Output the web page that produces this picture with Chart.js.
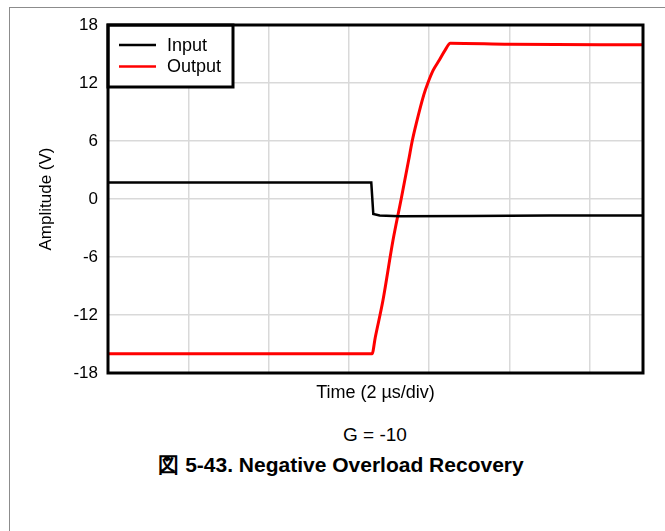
<!DOCTYPE html>
<html>
<head>
<meta charset="utf-8">
<script src="https://cdn.jsdelivr.net/npm/chart.js@4/dist/chart.umd.min.js"></script>
<style>
  body { margin: 0; background: #fff; font-family: "Liberation Sans", Arial, sans-serif; }
  #frame { position: absolute; left: 9px; top: 7px; width: 700px; height: 560px; border: 1px solid #8c8c8c; }
  #wrap { position: absolute; left: 0; top: 0; width: 665px; height: 406px; }
  .note { position: absolute; color: #000; white-space: nowrap; transform: translateX(-50%); }
</style>
</head>
<body>
<div id="frame"></div>
<div id="wrap"><canvas id="canvas" width="665" height="406"></canvas></div>
<div class="note" style="left:375px; top:424px; font-size:19px;">G = -10</div>
<div class="note" style="left:341px; top:451px; font-size:21px; font-weight:bold;">図 5-43. Negative Overload Recovery</div>
<script>
const canvas = document.getElementById("canvas");

// time in µs, amplitude in V
const inputTime = [0, 6.56, 6.61, 6.77, 7.27, 9.0, 11.0, 13.33];
const inputVolts = [1.7, 1.7, -1.55, -1.7, -1.78, -1.75, -1.7, -1.7];

const outputTime = [0, 6.58, 6.66, 6.85, 7.10, 7.30, 7.49, 7.58, 7.68, 7.87, 7.97, 8.10, 8.26, 8.40, 8.53, 10.0, 13.33];
const outputVolts = [-16, -16, -14.3, -10.5, -4.3, -0.1, 4.0, 6.0, 7.8, 10.8, 12.0, 13.3, 14.4, 15.4, 16.1, 16.0, 15.95];

const yTicks = [-18, -12, -6, 0, 6, 12, 18];

const fontFamily = "'Liberation Sans', Arial, sans-serif";

function toPoints(xs, ys) {
  return xs.map((x, i) => ({ x: x, y: ys[i] }));
}

const boxPlugin = {
  id: "boxPlugin",
  afterDatasetsDraw(chart) {
    const ctx = chart.ctx;
    const a = chart.chartArea;
    ctx.save();
    // legend box
    const lx = a.left, ly = a.top, lw = 125, lh = 62;
    ctx.fillStyle = "#fff";
    ctx.fillRect(lx, ly, lw, lh);
    ctx.strokeStyle = "#000";
    ctx.lineWidth = 3;
    ctx.strokeRect(lx, ly, lw, lh);
    ctx.font = "18px " + fontFamily;
    ctx.textBaseline = "middle";
    chart.data.datasets.forEach((ds, i) => {
      const y = ly + 20 + i * 21.5;
      ctx.strokeStyle = ds.borderColor;
      ctx.lineWidth = 2.5;
      ctx.beginPath();
      ctx.moveTo(lx + 11, y);
      ctx.lineTo(lx + 48, y);
      ctx.stroke();
      ctx.fillStyle = "#000";
      ctx.fillText(ds.label, lx + 59, y + 1);
    });
    // plot border
    ctx.strokeStyle = "#000";
    ctx.lineWidth = 3;
    ctx.strokeRect(a.left, a.top, a.right - a.left, a.bottom - a.top);
    ctx.restore();
  }
};

new Chart(canvas, {
  type: "line",
  data: {
    datasets: [
      {
        label: "Input",
        data: toPoints(inputTime, inputVolts),
        borderColor: "#000000",
        borderWidth: 2.5,
        pointRadius: 0,
        tension: 0
      },
      {
        label: "Output",
        data: toPoints(outputTime, outputVolts),
        borderColor: "#ff0000",
        borderWidth: 3,
        pointRadius: 0,
        cubicInterpolationMode: "monotone"
      }
    ]
  },
  options: {
    responsive: false,
    animation: false,
    devicePixelRatio: 1,
    layout: { padding: { top: 25, right: 22, left: 0, bottom: 0 } },
    plugins: {
      legend: { display: false },
      tooltip: { enabled: false }
    },
    scales: {
      x: {
        type: "linear",
        min: 0,
        max: 13.33,
        ticks: { display: false, stepSize: 2 },
        grid: { color: "#d9d9d9", lineWidth: 1.5, drawTicks: false },
        border: { display: false },
        title: {
          display: true,
          text: "Time (2 µs/div)",
          color: "#000",
          font: { size: 18, family: fontFamily },
          padding: { top: 9.4, bottom: 2 }
        }
      },
      y: {
        min: -18,
        max: 18,
        afterBuildTicks(scale) {
          scale.ticks = yTicks.map(v => ({ value: v }));
        },
        afterFit(scale) {
          scale.width = 108;
        },
        ticks: {
          color: "#000",
          padding: 10,
          font: { size: 17, family: fontFamily }
        },
        grid: { color: "#d9d9d9", lineWidth: 1.5, drawTicks: false },
        border: { display: false },
        title: {
          display: true,
          text: "Amplitude (V)",
          color: "#000",
          font: { size: 17, family: fontFamily },
          padding: { top: 36, bottom: 0 }
        }
      }
    }
  },
  plugins: [boxPlugin]
});
</script>
</body>
</html>
